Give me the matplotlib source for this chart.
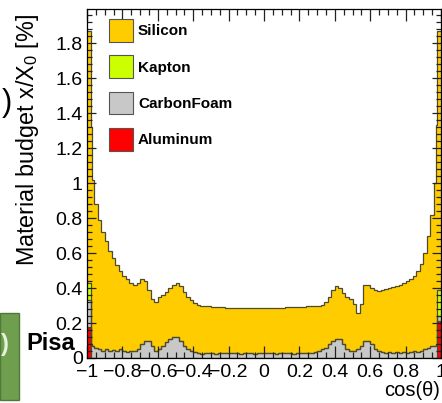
import numpy as np
import matplotlib
matplotlib.use("Agg")
import matplotlib.pyplot as plt
from matplotlib.patches import Patch, Rectangle
from matplotlib.ticker import MultipleLocator, FuncFormatter

plt.rcParams['font.family'] = ['Liberation Sans', 'DejaVu Sans']
plt.rcParams['mathtext.fontset'] = 'custom'
plt.rcParams['mathtext.rm'] = 'Liberation Sans'
plt.rcParams['mathtext.it'] = 'Liberation Sans:italic'
plt.rcParams['mathtext.default'] = 'regular'

# === DATA ===
# bin edges in cos(theta): finer bins at both ends of the acceptance
bin_edges = np.round(np.concatenate([[-1.0, -0.98, -0.97],
                                     np.arange(-0.96, 0.9601, 0.02),
                                     [0.97, 0.98, 1.0]]), 3)

# total material budget (top of the stack), x/X0 [%]
budget_total = [1.87, 1.32, 1.02,
                0.88, 0.79, 0.72, 0.67, 0.61, 0.57, 0.53, 0.50, 0.47, 0.45, 0.43, 0.42,
                0.43, 0.45, 0.44, 0.39, 0.34, 0.32, 0.35, 0.36, 0.38, 0.40, 0.42, 0.43,
                0.41, 0.38, 0.35, 0.33, 0.315, 0.305, 0.30, 0.298, 0.295, 0.293, 0.292, 0.29,
                0.29, 0.288, 0.287, 0.286, 0.287, 0.285, 0.286, 0.285, 0.284, 0.285, 0.284, 0.285,
                0.286, 0.285, 0.286, 0.287, 0.288, 0.288, 0.289, 0.29, 0.291, 0.292, 0.293, 0.294,
                0.295, 0.296, 0.298, 0.30, 0.305, 0.32, 0.35, 0.39, 0.41, 0.40, 0.37, 0.35,
                0.34, 0.31, 0.26, 0.31, 0.42, 0.42, 0.40, 0.39, 0.385, 0.39, 0.395, 0.40,
                0.405, 0.41, 0.42, 0.43, 0.44, 0.45, 0.47, 0.50, 0.54, 0.60, 0.70, 0.82,
                1.00, 1.33, 1.87]

carbon_foam = [0.15, 0.08, 0.07,
               0.06, 0.05, 0.04, 0.05, 0.04, 0.045, 0.04, 0.05, 0.04, 0.035, 0.04, 0.04,
               0.05, 0.08, 0.10, 0.10, 0.07, 0.04, 0.05, 0.07, 0.09, 0.11, 0.12, 0.12,
               0.10, 0.07, 0.05, 0.04, 0.035, 0.03, 0.025, 0.03, 0.028, 0.03, 0.025, 0.03,
               0.028, 0.03, 0.026, 0.03, 0.028, 0.025, 0.03, 0.027, 0.03, 0.025, 0.028, 0.03,
               0.026, 0.03, 0.028, 0.025, 0.03, 0.027, 0.03, 0.028, 0.025, 0.03, 0.027, 0.03,
               0.028, 0.03, 0.035, 0.04, 0.05, 0.06, 0.08, 0.10, 0.11, 0.11, 0.08, 0.05,
               0.04, 0.04, 0.05, 0.07, 0.10, 0.10, 0.08, 0.05, 0.04, 0.035, 0.03, 0.035,
               0.03, 0.035, 0.03, 0.035, 0.03, 0.035, 0.04, 0.035, 0.04, 0.05, 0.06, 0.07,
               0.07, 0.08, 0.03]

kapton = [0.10, 0.0, 0.0] + [0.0] * 96 + [0.0, 0.0, 0.15]
aluminum = [0.18, 0.0, 0.0] + [0.0] * 96 + [0.0, 0.0, 0.21]

# silicon is what remains on top of the other materials
silicon = (np.array(budget_total) - np.array(carbon_foam)
           - np.array(kapton) - np.array(aluminum))

legend_order = ["Silicon", "Kapton", "CarbonFoam", "Aluminum"]
colors = {"Silicon": "#ffcc00", "Kapton": "#ccff00",
          "CarbonFoam": "#c8c8c8", "Aluminum": "#ff0000"}
stack = [("Aluminum", aluminum), ("CarbonFoam", carbon_foam),
         ("Kapton", kapton), ("Silicon", silicon)]

# === FIGURE ===
fig = plt.figure(figsize=(4.42, 4.03), dpi=100)
ax = fig.add_axes([87 / 442, 45 / 403, 354 / 442, 349 / 403])

base = np.zeros(len(budget_total))
tops = []
for name, vals in stack:
    top = base + np.asarray(vals)
    ax.stairs(top, bin_edges, baseline=base, fill=True, color=colors[name], lw=0)
    tops.append(top)
    base = top
for top in tops:
    ax.stairs(top, bin_edges, baseline=None, color="#4d4a30", lw=0.9)

ax.set_xlim(-1, 1)
ax.set_ylim(0, 1.995)

def root_fmt(v, _):
    if abs(v) < 1e-9:
        v = 0.0
    return ("%g" % round(v, 2)).replace("-", "\u2212")

ax.xaxis.set_major_locator(MultipleLocator(0.2))
ax.xaxis.set_minor_locator(MultipleLocator(0.05))
ax.yaxis.set_major_locator(MultipleLocator(0.2))
ax.yaxis.set_minor_locator(MultipleLocator(0.04))
ax.xaxis.set_major_formatter(FuncFormatter(root_fmt))
ax.yaxis.set_major_formatter(FuncFormatter(root_fmt))
ax.tick_params(which="both", direction="in", top=True, right=True,
               labelsize=14, width=0.9, color="#222222")
ax.tick_params(axis="x", which="major", length=8.5, pad=4)
ax.tick_params(axis="x", which="minor", length=4.5)
ax.tick_params(axis="y", which="major", length=6.5, pad=3)
ax.tick_params(axis="y", which="minor", length=3.5)
for sp in ax.spines.values():
    sp.set_linewidth(0.9)

# axis titles (ROOT style: aligned to the axis end)
fig.text(28 / 442, (403 - 14) / 403, r"Material budget x/X$_{0}$ [%]",
         rotation=90, ha="center", va="top", fontsize=16.8)
fig.text(440 / 442, (403 - 390) / 403, "cos(\u03b8)", ha="right", va="center",
         fontsize=14.5)

handles = [Patch(facecolor=colors[n], edgecolor="#555555", lw=0.8, label=n)
           for n in legend_order]
ax.legend(handles=handles, loc="upper left", bbox_to_anchor=(109 / 442, (403 - 19) / 403),
          bbox_transform=fig.transFigure, frameon=False, borderpad=0, borderaxespad=0,
          handlelength=1.57, handleheight=1.9, labelspacing=0.9, handletextpad=0.33,
          prop={"weight": "bold", "size": 11})

# bits of neighbouring panels that show in the crop
fig.patches.append(Rectangle((0, 3 / 403), 19 / 442, (400 - 313) / 403, transform=fig.transFigure,
                             facecolor="#6f9e4f", edgecolor="#4f7a36", lw=1.0))
fig.text(1 / 442, (403 - 345) / 403, ")", color="#e6f0dc", fontsize=17, va="center",
         ha="left", weight="bold")
fig.text(26 / 442, (403 - 350) / 403, "Pisa", fontsize=17, weight="bold", va="baseline",
         ha="left")
fig.text(2 / 442, (403 - 103) / 403, ")", fontsize=22, va="center", ha="left")

fig.savefig("out.png", dpi=100)
